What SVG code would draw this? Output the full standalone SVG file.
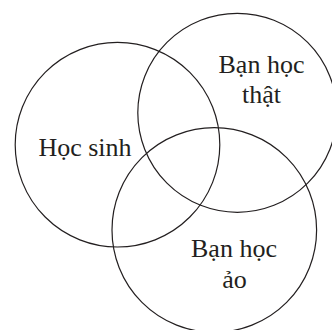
<svg xmlns="http://www.w3.org/2000/svg" width="332" height="330" viewBox="0 0 332 330">
<style>
.c{fill:none;stroke:#231f20;stroke-width:1.2}
.t{font-family:"Liberation Serif","DejaVu Serif",serif;font-size:26px;fill:#231f20;text-anchor:middle}
</style>
<rect width="332" height="330" fill="#fff"/>
<g id="connectors"></g>
<g id="hocsinh"><circle class="c" cx="117.5" cy="144.7" r="102.3"/><text class="t" x="85" y="156">Học sinh</text></g>
<g id="banhocthat"><circle class="c" cx="237.3" cy="112.8" r="99.5"/><text class="t" x="261.5" y="72.5">Bạn học</text><text class="t" x="261.5" y="102.7">thật</text></g>
<g id="banhocao"><circle class="c" cx="214.3" cy="230" r="102.3"/><text class="t" x="234" y="257">Bạn học</text><text class="t" x="234.5" y="288.3">ảo</text></g>
</svg>
